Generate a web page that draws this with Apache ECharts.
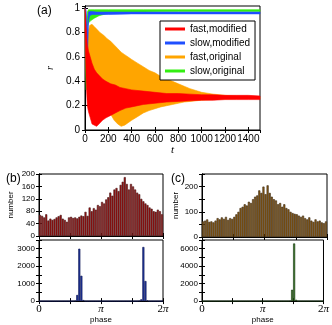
<!DOCTYPE html>
<html>
<head>
<meta charset="utf-8">
<script src="https://cdn.jsdelivr.net/npm/echarts@6/dist/echarts.min.js"></script>
<style>
html, body { margin: 0; padding: 0; background: #fff; }
#main { width: 332px; height: 325px; }
</style>
</head>
<body>
<div id="main"></div>
<script>
// ---- panel (a): envelopes of r(t) ----
var tFastMod  = [0, 5, 10, 20, 30, 45, 60, 80, 100, 120, 150, 180, 220, 260, 300, 350, 400, 500, 600, 700, 800, 900, 1000, 1100, 1200, 1300, 1400, 1500];
var fastModHi = [1.0, 0.95, 0.85, 0.7, 0.65, 0.6, 0.55, 0.5, 0.47, 0.45, 0.42, 0.4, 0.38, 0.37, 0.35, 0.34, 0.33, 0.32, 0.31, 0.30, 0.30, 0.295, 0.29, 0.29, 0.285, 0.285, 0.285, 0.28];
var fastModLo = [0.8, 0.6, 0.4, 0.2, 0.15, 0.1, 0.05, 0.04, 0.03, 0.05, 0.08, 0.1, 0.12, 0.14, 0.16, 0.18, 0.19, 0.21, 0.22, 0.23, 0.235, 0.24, 0.245, 0.245, 0.25, 0.25, 0.25, 0.25];

var tFastOrig  = [15, 25, 40, 60, 80, 100, 130, 160, 190, 220, 250, 280, 310, 340, 370, 400, 450, 500, 550, 600, 650, 700, 750, 800, 850, 900, 950, 1000, 1100, 1200, 1300, 1400, 1500];
var fastOrigHi = [0.7, 0.8, 0.86, 0.87, 0.85, 0.83, 0.8, 0.78, 0.75, 0.73, 0.7, 0.67, 0.64, 0.62, 0.6, 0.58, 0.55, 0.52, 0.49, 0.47, 0.44, 0.42, 0.4, 0.38, 0.36, 0.34, 0.325, 0.31, 0.295, 0.285, 0.278, 0.273, 0.27];
var fastOrigLo = [0.4, 0.35, 0.3, 0.28, 0.26, 0.24, 0.22, 0.2, 0.2, 0.13, 0.08, 0.05, 0.03, 0.04, 0.06, 0.08, 0.11, 0.14, 0.16, 0.175, 0.19, 0.2, 0.21, 0.22, 0.23, 0.235, 0.24, 0.245, 0.25, 0.255, 0.258, 0.26, 0.26];

var tSlowMod  = [0, 5, 10, 15, 20, 25, 30, 40, 60, 100, 200, 400, 800, 1500];
var slowModHi = [1.0, 1.0, 0.98, 0.9, 0.8, 0.9, 0.97, 0.975, 0.975, 0.97, 0.97, 0.97, 0.97, 0.97];
var slowModLo = [1.0, 0.9, 0.75, 0.62, 0.58, 0.7, 0.9, 0.94, 0.95, 0.95, 0.95, 0.955, 0.955, 0.955];

var tSlowOrig  = [0, 5, 10, 15, 20, 30, 50, 80, 120, 200, 300, 500, 800, 1500];
var slowOrigHi = [1.0, 0.9, 0.7, 0.9, 0.97, 0.99, 0.99, 0.99, 0.99, 0.99, 0.99, 0.99, 0.99, 0.99];
var slowOrigLo = [1.0, 0.5, 0.33, 0.6, 0.85, 0.88, 0.9, 0.92, 0.94, 0.96, 0.965, 0.97, 0.975, 0.975];

var legendNames = ['fast,modified', 'slow,modified', 'fast,original', 'slow,original'];

// ---- panels (b), (c): phase histograms, 60 bins over 0..2pi ----
var histB1 = [68, 65, 60, 70, 50, 56, 52, 55, 60, 64, 68, 56, 52, 46, 60, 62, 58, 60, 57, 62,
              66, 64, 78, 65, 92, 80, 90, 85, 100, 96, 110, 105, 118, 125, 140, 130, 150, 155, 145, 165,
              175, 190, 168, 150, 168, 160, 150, 140, 135, 120, 112, 105, 100, 92, 88, 80, 78, 85, 80, 70];
var histB2 = [0, 0, 0, 0, 0, 0, 0, 0, 0, 0, 0, 0, 0, 0, 0, 0, 0, 20, 350, 3000,
              1450, 60, 0, 0, 0, 0, 0, 0, 0, 0, 0, 0, 0, 0, 0, 0, 0, 0, 0, 0,
              0, 0, 0, 0, 0, 0, 0, 0, 20, 100, 3100, 1150, 40, 0, 0, 0, 0, 0, 0, 0];
var histC1 = [62, 65, 70, 60, 62, 58, 65, 75, 70, 78, 72, 80, 68, 75, 72, 80, 90, 100, 115, 120,
              130, 125, 140, 135, 150, 160, 165, 185, 175, 200, 170, 205, 175, 160, 150, 145, 130, 135, 120, 130,
              115, 110, 100, 95, 92, 90, 85, 80, 85, 75, 70, 78, 65, 60, 70, 62, 65, 58, 55, 62];
var histC2 = [0, 0, 0, 0, 0, 0, 0, 0, 0, 0, 0, 0, 0, 0, 0, 0, 0, 0, 0, 0,
              0, 0, 0, 0, 0, 0, 0, 0, 0, 0, 0, 0, 0, 0, 0, 0, 0, 0, 0, 0,
              0, 0, 0, 30, 1300, 6600, 150, 0, 0, 0, 0, 0, 0, 0, 0, 0, 0, 0, 0, 0];
var phaseLabels = ['0', '{i|π}', '2{i|π}'];

var SANS = 'Liberation Sans, Arial, sans-serif';
var SERIF = 'Liberation Serif, Times New Roman, serif';

// phase axis is in units of pi: 0..2
function bins(arr) {
  return arr.map(function (v, i) { return [(i + 0.5) * 2 / arr.length, v]; });
}

function band(name, t, lo, hi, color) {
  return {
    type: 'custom', name: name, xAxisIndex: 0, yAxisIndex: 0,
    itemStyle: { color: color },
    data: t.map(function (x, i) { return [x, lo[i], hi[i]]; }),
    encode: { x: 0, y: [1, 2] },
    renderItem: function (params, api) {
      if (params.dataIndex !== 0) return;
      var pts = [], i;
      for (i = 0; i < t.length; i++) pts.push(api.coord([t[i], hi[i]]));
      for (i = t.length - 1; i >= 0; i--) pts.push(api.coord([t[i], lo[i]]));
      return { type: 'polygon', shape: { points: pts }, style: { fill: color, stroke: color, lineWidth: 0.6 } };
    }
  };
}

function hist(gi, arr, fill, border) {
  return {
    type: 'bar', xAxisIndex: gi * 2, yAxisIndex: gi * 2, data: bins(arr),
    barWidth: '100%', animation: false,
    itemStyle: { color: fill, borderColor: border, borderWidth: 0.6 }
  };
}

var grids = [
  { left: 85, top: 6, width: 175, height: 124 },     // a
  { left: 39, top: 174, width: 124, height: 62 },    // b top
  { left: 39, top: 240, width: 124, height: 62 },    // b bottom
  { left: 202, top: 174, width: 125, height: 63 },   // c top
  { left: 202, top: 240, width: 125, height: 62 }    // c bottom
];
grids.forEach(function (g) { g.show = true; g.borderColor = '#000'; g.borderWidth = 1; g.backgroundColor = 'transparent'; });

var xAxes = [], yAxes = [];
function addX(gi, o) {
  var base = {
    gridIndex: gi, type: 'value', min: o.min, max: o.max, interval: o.interval,
    axisLine: { show: true, lineStyle: { color: '#000', width: 1 } },
    axisTick: { inside: true, length: 3, lineStyle: { color: '#000' } },
    splitLine: { show: false }
  };
  var main = Object.assign({}, base, {
    position: 'bottom',
    axisLabel: Object.assign({ color: '#000', fontFamily: SANS, fontSize: 10, margin: 4, showMaxLabel: o.showMax }, o.label || {}),
    name: o.name || '', nameLocation: 'middle', nameGap: o.nameGap || 15,
    nameTextStyle: o.nameStyle || {}
  });
  if (o.hideLabel) main.axisLabel.show = false;
  var mirror = Object.assign({}, base, { position: 'top', axisLabel: { show: false } });
  xAxes.push(main, mirror);
}
function addY(gi, o) {
  var base = {
    gridIndex: gi, type: 'value', min: 0, max: o.max, interval: o.interval,
    axisLine: { show: true, lineStyle: { color: '#000', width: 1 } },
    axisTick: { inside: true, length: 3, lineStyle: { color: '#000' } },
    splitLine: { show: false }
  };
  var main = Object.assign({}, base, {
    position: 'left',
    axisLabel: Object.assign({ color: '#000', fontFamily: SANS, fontSize: 10, margin: 5, showMaxLabel: o.showMax }, o.label || {}),
    name: o.name || '', nameLocation: 'middle', nameGap: o.nameGap || 20,
    nameTextStyle: o.nameStyle || {}
  });
  var mirror = Object.assign({}, base, { position: 'right', axisLabel: { show: false } });
  yAxes.push(main, mirror);
}

// (a)
addX(0, { min: 0, max: 1500, interval: 200, showMax: false,
  label: { fontSize: 10, formatter: function (v) { return String(v); } },
  name: 't', nameGap: 15, nameStyle: { fontFamily: SERIF, fontStyle: 'italic', fontSize: 11, color: '#000' } });
addY(0, { max: 1.02, interval: 0.2, showMax: false, name: 'r', nameGap: 30,
  nameStyle: { fontFamily: SERIF, fontStyle: 'italic', fontSize: 10, color: '#000' } });

var phaseLabel = {
  fontFamily: SERIF, fontSize: 11, margin: 3,
  formatter: function (v) { var k = Math.round(v * 2); return k % 2 === 0 ? phaseLabels[k / 2] : ''; },
  rich: { i: { fontFamily: SERIF, fontStyle: 'italic', fontSize: 11 } }
};
var smallY = { fontSize: 8, margin: 4 };
function every(step) {
  return Object.assign({}, smallY, { formatter: function (v) { return v % step === 0 ? String(v) : ''; } });
}
var nameSmall = { fontFamily: SANS, fontSize: 8, color: '#000' };

// (b)
addX(1, { min: 0, max: 2, interval: 0.5, hideLabel: true });
addY(1, { max: 200, interval: 40, showMax: true, label: smallY, name: 'number', nameGap: 24, nameStyle: nameSmall });
addX(2, { min: 0, max: 2, interval: 0.5, showMax: true, label: phaseLabel, name: 'phase', nameGap: 12, nameStyle: nameSmall });
addY(2, { max: 3500, interval: 500, showMax: true, label: every(1000) });
// (c)
addX(3, { min: 0, max: 2, interval: 0.5, hideLabel: true });
addY(3, { max: 250, interval: 50, showMax: true, label: every(100), name: 'number', nameGap: 22, nameStyle: nameSmall });
addX(4, { min: 0, max: 2, interval: 0.5, showMax: true, label: phaseLabel, name: 'phase', nameGap: 12, nameStyle: nameSmall });
addY(4, { max: 7000, interval: 1000, showMax: true, label: every(2000) });

var chart = echarts.init(document.getElementById('main'));
chart.setOption({
  animation: false,
  backgroundColor: '#fff',
  title: [
    { text: '(a)', left: 32, top: 0, textStyle: { fontFamily: SANS, fontSize: 12, fontWeight: 'normal', color: '#000' } },
    { text: '(b)', left: 1, top: 168, textStyle: { fontFamily: SANS, fontSize: 12, fontWeight: 'normal', color: '#000' } },
    { text: '(c)', left: 166, top: 168, textStyle: { fontFamily: SANS, fontSize: 12, fontWeight: 'normal', color: '#000' } }
  ],
  legend: {
    data: legendNames, orient: 'vertical', left: 160, top: 21,
    icon: 'rect', itemWidth: 20, itemHeight: 3, itemGap: 2,
    padding: [2, 5, 3, 5], borderColor: '#000', borderWidth: 1, backgroundColor: '#fff',
    textStyle: { fontFamily: SANS, fontSize: 10, lineHeight: 12, color: '#000' },
    selectedMode: false
  },
  grid: grids,
  xAxis: xAxes,
  yAxis: yAxes,
  series: [
    band(legendNames[2], tFastOrig, fastOrigLo, fastOrigHi, '#ffa500'),
    band(legendNames[3], tSlowOrig, slowOrigLo, slowOrigHi, '#33ee11'),
    band(legendNames[1], tSlowMod, slowModLo, slowModHi, '#1f4fff'),
    band(legendNames[0], tFastMod, fastModLo, fastModHi, '#ff0000'),
    hist(1, histB1, '#9a0c0c', '#4a1e1e'),
    hist(2, histB2, '#2238a0', '#0c1450'),
    hist(3, histC1, '#8a5a14', '#3a2a14'),
    hist(4, histC2, '#3a7a22', '#143010')
  ]
});
</script>
</body>
</html>
